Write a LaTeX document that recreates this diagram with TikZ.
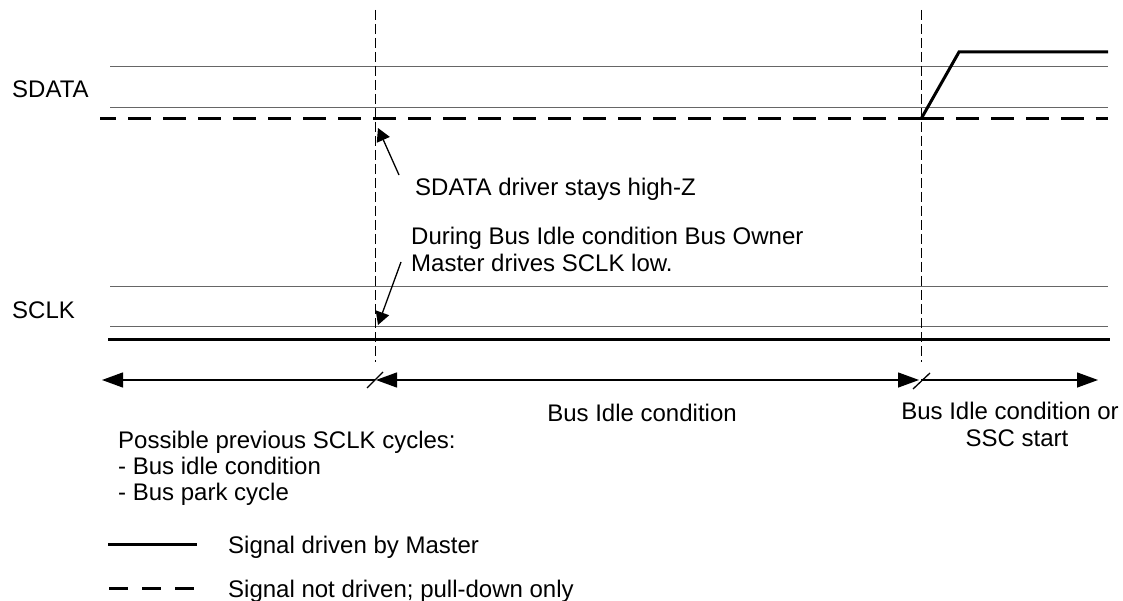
\documentclass[tikz,border=0pt]{standalone}
\usepackage{fontspec}
\setmainfont{Liberation Sans}
\usetikzlibrary{arrows.meta}
\begin{document}
\begin{tikzpicture}[x=1pt,y=-1pt,
  txt/.style={inner sep=0pt, font=\fontsize{24}{27}\selectfont},
  guide/.style={draw=black!60, line width=0.9pt},
  driven/.style={line width=3pt, line join=miter},
  floating/.style={line width=3pt, dash pattern=on 23pt off 12pt},
  marker/.style={line width=0.8pt, dash pattern=on 10pt off 4pt},
  span/.style={line width=1.3pt},
  callout/.style={line width=1.3pt, -{Triangle[length=13pt,width=14pt]}}
]
\useasboundingbox (0,0) rectangle (1123,601);

% signal labels
\node[txt, anchor=base west] (sdata) at (12,98) {SDATA};
\node[txt, anchor=base west] (sclk) at (12,318) {SCLK};

% guide lines
\draw[guide] (110,66) -- (1108,66);
\draw[guide] (110,107) -- (1108,107);
\draw[guide] (110,286) -- (1108,286);
\draw[guide] (110,326) -- (1108,326);

% phase markers
\coordinate (m1top) at (375,10);
\coordinate (m1bot) at (375,362);
\coordinate (m2top) at (921,10);
\coordinate (m2bot) at (921,362);
\draw[marker] (m1top) -- (m1bot);
\draw[marker] (m2top) -- (m2bot);

% SDATA
\coordinate (sdL) at (100,119);
\coordinate (sdM) at (921,119);
\coordinate (sdR) at (1108,119);
\coordinate (sdTop) at (959,52);
\coordinate (sdTopR) at (1108,52);
\draw[floating, dash phase=7pt] (sdL) -- (sdM);
\draw[floating] (sdM) -- (sdR);
\draw[driven] (sdM) -- (sdTop) -- (sdTopR);

% SCLK
\coordinate (ckL) at (108,339);
\coordinate (ckR) at (1110,339);
\draw[driven] (ckL) -- (ckR);

% spans
\coordinate (aL) at (102,380);
\coordinate (a1) at (375,380);
\coordinate (a1r) at (376,380);
\coordinate (a2l) at (919,380);
\coordinate (a2) at (921,380);
\coordinate (aR) at (1098,380);
\draw[span, -{Triangle[length=21pt,width=15pt]}] (a1) -- (aL);
\draw[span, {Triangle[length=21pt,width=15pt]}-{Triangle[length=21pt,width=15pt]}] (a1r) -- (a2l);
\draw[span, -{Triangle[length=21pt,width=15pt]}] (a2) -- (aR);
\draw[span] (367,388) -- (383,372);
\draw[span] (913,389) -- (930,373);

% callouts
\node[txt, anchor=base west] (hiz) at (415,196) {SDATA driver stays high-Z};
\coordinate (hizT) at (399,175);
\coordinate (hizH) at (378,128);
\draw[callout] (hizT) -- (hizH);

\node[txt, anchor=base west] (idle1) at (411,245) {During Bus Idle condition Bus Owner};
\node[txt, anchor=base west] (idle2) at (411,272) {Master drives SCLK low.};
\coordinate (lowT) at (401,262);
\coordinate (lowH) at (378,325);
\draw[callout] (lowT) -- (lowH);

% span labels
\node[txt, anchor=base west] (prev1) at (118,448) {Possible previous SCLK cycles:};
\node[txt, anchor=base west] (prev2) at (118,474) {- Bus idle condition};
\node[txt, anchor=base west] (prev3) at (118,500) {- Bus park cycle};
\node[txt, anchor=base] (busidle) at (642,421) {Bus Idle condition};
\node[txt, anchor=base] (next1) at (1010,419) {Bus Idle condition or};
\node[txt, anchor=base] (next2) at (1017,446) {SSC start};

% legend
\coordinate (l1a) at (108,544);
\coordinate (l1b) at (197,544);
\coordinate (l2a) at (109,588);
\coordinate (l2b) at (197,588);
\draw[driven] (l1a) -- (l1b);
\draw[line width=3pt, dash pattern=on 19pt off 14pt] (l2a) -- (l2b);
\node[txt, anchor=base west] (leg1) at (228,553) {Signal driven by Master};
\node[txt, anchor=base west] (leg2) at (228,597) {Signal not driven; pull-down only};
\end{tikzpicture}
\end{document}
